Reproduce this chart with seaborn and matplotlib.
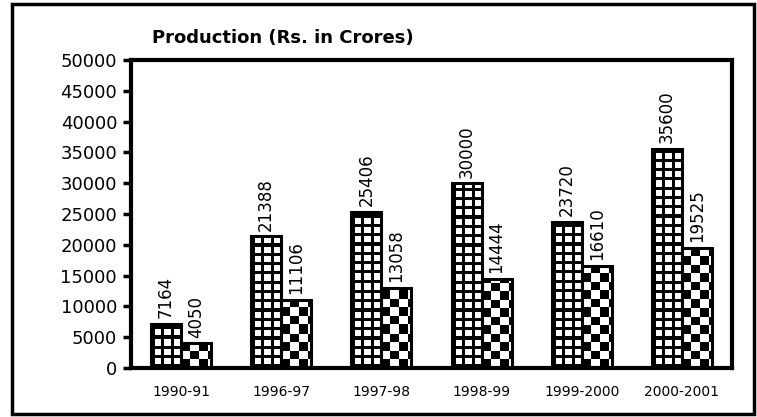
import matplotlib
matplotlib.use("Agg")
import matplotlib.pyplot as plt
import seaborn as sns
import pandas as pd
import numpy as np
from matplotlib.patches import Rectangle

years = ["1990-91", "1996-97", "1997-98", "1998-99", "1999-2000", "2000-2001"]
series_a = [7164, 21388, 25406, 30000, 23720, 35600]
series_b = [4050, 11106, 13058, 14444, 16610, 19525]
series_names = ["Series A", "Series B"]
yticks = list(range(0, 50001, 5000))
title = "Production (Rs. in Crores)"

df = pd.DataFrame({
    "year": years * 2,
    "value": series_a + series_b,
    "series": [series_names[0]] * len(years) + [series_names[1]] * len(years),
})

sns.set_theme(style="white")
plt.rcParams["font.family"] = ["DejaVu Sans"]
plt.rcParams["text.color"] = "black"
plt.rcParams["xtick.color"] = "black"
plt.rcParams["ytick.color"] = "black"
plt.rcParams["axes.labelcolor"] = "black"

fig = plt.figure(figsize=(7.57, 4.17), dpi=100)
ax = fig.add_axes([0.173, 0.1175, 0.794, 0.7385])

sns.barplot(data=df, x="year", y="value", hue="series", order=years,
            hue_order=series_names, palette=["white", "white"], width=0.6,
            edgecolor="black", linewidth=2.2, legend=False, ax=ax, saturation=1)

ax.set_ylim(0, 50000)
ax.set_xlim(-0.5, len(years) - 0.5)


def grid_tex(wp, hp):
    x = np.arange(wp)[None, :]
    y = np.arange(hp)[:, None]
    per, th = 9.3, 3.2
    black = ((x % per) < th) | ((y % per) < th)
    return np.where(black, 0.0, 1.0)


def checker_tex(wp, hp):
    x = np.arange(wp)[None, :]
    y = np.arange(hp)[:, None]
    c = 8.5
    return ((np.floor(x / c) + np.floor(y / c)) % 2).astype(float)


fig.canvas.draw()
for cont, tex in zip(ax.containers, [grid_tex, checker_tex]):
    for bar in cont:
        x0, w, h = bar.get_x(), bar.get_width(), bar.get_height()
        p0 = ax.transData.transform((x0, 0))
        p1 = ax.transData.transform((x0 + w, h))
        wp = max(int(round(p1[0] - p0[0])), 1)
        hp = max(int(round(p1[1] - p0[1])), 1)
        arr = tex(wp, hp)
        im = ax.imshow(arr, extent=(x0, x0 + w, 0, h), origin="lower",
                       cmap="gray", vmin=0, vmax=1, interpolation="nearest",
                       aspect="auto", zorder=1.5)
        im.set_clip_path(bar)
        bar.set_facecolor("none")
        bar.set_zorder(2)
    ax.bar_label(cont, labels=[f"{int(v)}" for v in cont.datavalues],
                 rotation=90, padding=4, fontsize=12, color="black")

ax.set_ylim(0, 50000)
ax.set_xlim(-0.5, len(years) - 0.5)
ax.set_yticks(yticks)
ax.set_yticklabels([str(t) for t in yticks], fontsize=13, color="black")
for lab in ax.get_xticklabels():
    lab.set_fontsize(10)
    lab.set_color("black")
ax.tick_params(axis="y", direction="out", length=6, width=2.5, pad=4, color="black", left=True)
ax.tick_params(axis="x", length=0, pad=12)
ax.set_xlabel("")
ax.set_ylabel("")
for s in ax.spines.values():
    s.set_visible(True)
    s.set_color("black")
    s.set_linewidth(3)
    s.set_zorder(3)

fig.text(152 / 757, 1 - 38 / 417, title, fontsize=13, fontweight="bold",
         ha="left", va="center", color="black")

fig.patches.append(Rectangle((12 / 757, 3 / 417), 742 / 757, 410 / 417,
                             transform=fig.transFigure, fill=False,
                             edgecolor="black", linewidth=2.5))

fig.savefig("out.png", dpi=100, facecolor="white")
